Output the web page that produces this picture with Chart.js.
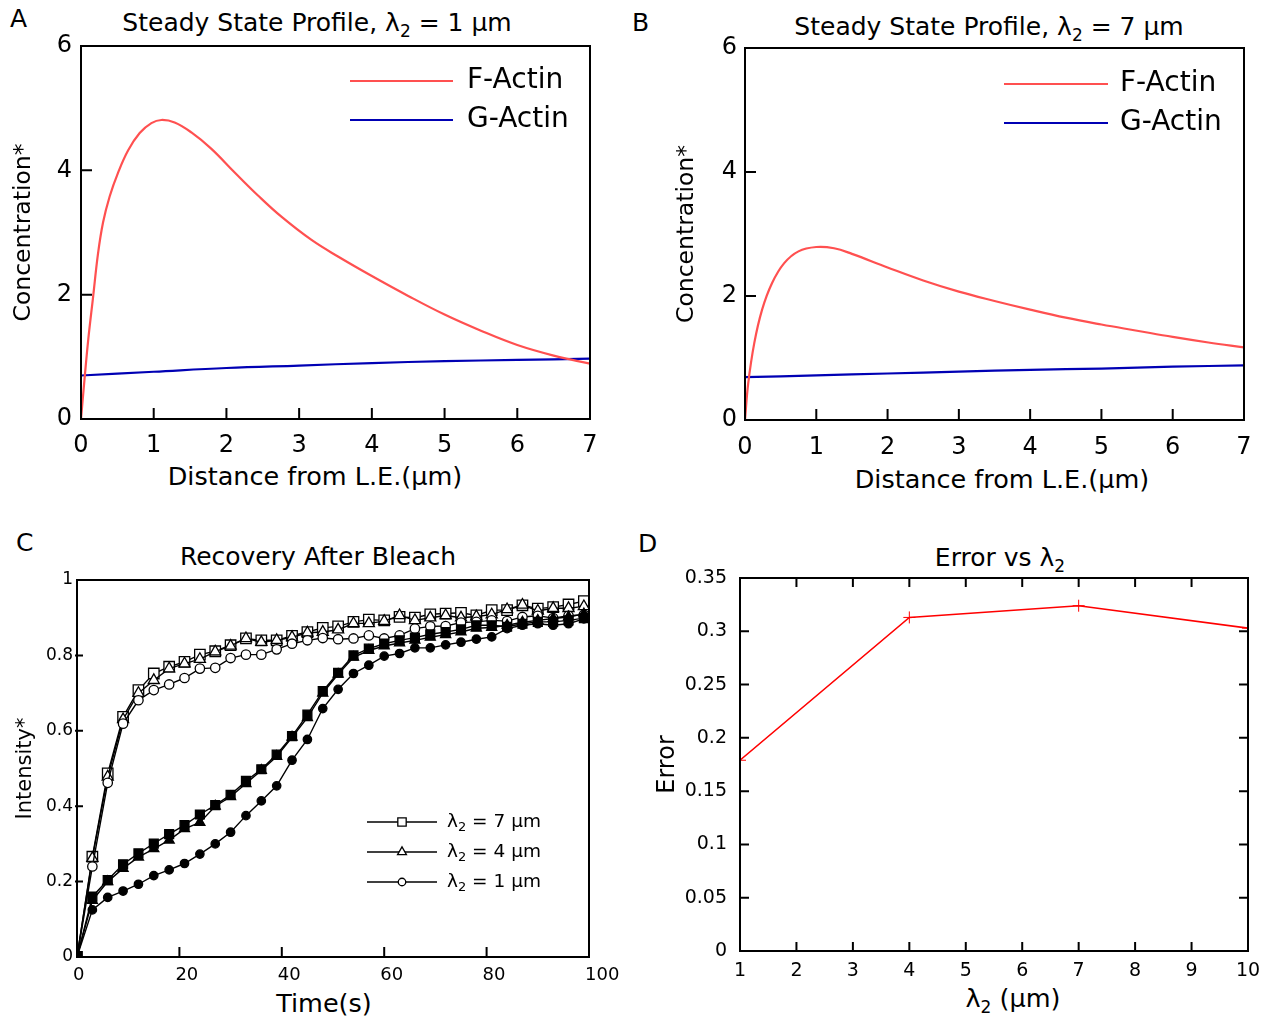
<!DOCTYPE html>
<html>
<head>
<meta charset="utf-8">
<script src="https://cdn.jsdelivr.net/npm/chart.js@4.4.1/dist/chart.umd.min.js"></script>
<style>
  body { margin: 0; background: #fff; width: 1270px; height: 1022px; position: relative; overflow: hidden;
         font-family: "DejaVu Sans", sans-serif; color: #000; }
  canvas { position: absolute; }
  .lbl { position: absolute; font-size: 25px; line-height: 1; }
  .ttl { position: absolute; font-size: 25px; line-height: 1; transform: translate(-50%, -50%); white-space: nowrap; }
  .ttl sub { font-size: 17px; vertical-align: -6px; line-height: 0; }
  .ax { font-size: 25.5px; }
</style>
</head>
<body>
<div class="lbl" style="left:10px;top:6px">A</div>
<div class="lbl" style="left:632px;top:10px">B</div>
<div class="lbl" style="left:16px;top:530px">C</div>
<div class="lbl" style="left:638px;top:531px">D</div>
<div class="ttl" style="left:317px;top:22px">Steady State Profile, λ<sub>2</sub> = 1 µm</div>
<div class="ttl" style="left:989px;top:26px">Steady State Profile, λ<sub>2</sub> = 7 µm</div>
<div class="ttl" style="left:318px;top:556px">Recovery After Bleach</div>
<div class="ttl" style="left:1000px;top:557px">Error vs λ<sub>2</sub></div>
<div class="ttl ax" style="left:315px;top:477px">Distance from L.E.(µm)</div>
<div class="ttl ax" style="left:1002px;top:480px">Distance from L.E.(µm)</div>
<div class="ttl ax" style="left:324px;top:1004px">Time(s)</div>
<div class="ttl ax" style="left:1013px;top:999px">λ<sub>2</sub> (µm)</div>

<canvas id="cA" width="620" height="500" style="left:0;top:0"></canvas>
<canvas id="cB" width="640" height="505" style="left:630px;top:0"></canvas>
<canvas id="cC" width="625" height="497" style="left:0;top:525px"></canvas>
<canvas id="cD" width="640" height="497" style="left:630px;top:525px"></canvas>

<script>
const FONT = '"DejaVu Sans", sans-serif';
const RED = '#ff5050';
const BLUE = '#0000b4';

// A: steady state, lambda2 = 1 um
const distA = [0, 0.05, 0.1, 0.165, 0.234, 0.303, 0.394, 0.509, 0.647, 0.807, 0.968, 1.105, 1.288, 1.518, 1.79, 2.11, 2.43, 2.76, 3.17, 3.54, 4, 4.5, 5, 5.5, 6, 6.5, 7];
const fActinA = [0, 0.66, 1.28, 1.95, 2.66, 3.16, 3.58, 3.96, 4.32, 4.60, 4.76, 4.81, 4.77, 4.61, 4.35, 3.97, 3.60, 3.25, 2.88, 2.61, 2.30, 1.98, 1.68, 1.42, 1.19, 1.02, 0.89];
const gDistA = [0, 1, 2, 3, 4, 5, 6, 7];
const gActinA = [0.70, 0.76, 0.82, 0.86, 0.90, 0.93, 0.95, 0.97];

// B: steady state, lambda2 = 7 um
const distB = [0, 0.045, 0.13, 0.24, 0.38, 0.55, 0.75, 1.0, 1.25, 1.5, 2, 2.5, 3, 3.5, 4, 4.5, 5, 5.5, 6, 6.5, 7];
const fActinB = [0, 0.59, 1.24, 1.78, 2.21, 2.53, 2.72, 2.79, 2.77, 2.68, 2.46, 2.25, 2.07, 1.92, 1.78, 1.65, 1.54, 1.44, 1.34, 1.25, 1.17];
const gDistB = [0, 1, 2, 3, 4, 5, 6, 7];
const gActinB = [0.69, 0.72, 0.75, 0.78, 0.81, 0.83, 0.86, 0.88];

const ticksProfX = [0, 1, 2, 3, 4, 5, 6, 7];
const ticksProfY = [0, 2, 4, 6];

// C: recovery after bleach
const timeC = [0, 3, 6, 9, 12, 15, 18, 21, 24, 27, 30, 33, 36, 39, 42, 45, 48, 51, 54, 57, 60, 63, 66, 69, 72, 75, 78, 81, 84, 87, 90, 93, 96, 99];
const openSq7 = [0, 0.266, 0.487, 0.637, 0.708, 0.752, 0.770, 0.783, 0.802, 0.811, 0.827, 0.845, 0.840, 0.840, 0.852, 0.862, 0.873, 0.877, 0.889, 0.895, 0.893, 0.902, 0.900, 0.909, 0.911, 0.913, 0.906, 0.920, 0.920, 0.933, 0.924, 0.928, 0.935, 0.944];
const openTri4 = [0, 0.262, 0.478, 0.630, 0.700, 0.734, 0.765, 0.778, 0.790, 0.810, 0.825, 0.845, 0.835, 0.840, 0.848, 0.860, 0.862, 0.868, 0.885, 0.885, 0.891, 0.906, 0.893, 0.900, 0.906, 0.900, 0.903, 0.908, 0.922, 0.934, 0.918, 0.925, 0.925, 0.930];
const openCirc1 = [0, 0.240, 0.462, 0.619, 0.681, 0.708, 0.723, 0.740, 0.765, 0.767, 0.793, 0.802, 0.802, 0.816, 0.831, 0.840, 0.846, 0.843, 0.845, 0.853, 0.845, 0.853, 0.871, 0.877, 0.878, 0.887, 0.889, 0.893, 0.891, 0.902, 0.905, 0.899, 0.905, 0.908];
const fillSq7 = [0, 0.160, 0.204, 0.246, 0.275, 0.301, 0.326, 0.350, 0.378, 0.403, 0.430, 0.467, 0.498, 0.537, 0.586, 0.643, 0.705, 0.754, 0.800, 0.818, 0.831, 0.840, 0.847, 0.856, 0.862, 0.869, 0.880, 0.880, 0.876, 0.884, 0.889, 0.889, 0.893, 0.899];
const fillTri4 = [0, 0.150, 0.200, 0.235, 0.265, 0.287, 0.310, 0.340, 0.357, 0.400, 0.425, 0.460, 0.495, 0.532, 0.583, 0.635, 0.700, 0.750, 0.795, 0.813, 0.825, 0.833, 0.840, 0.848, 0.855, 0.862, 0.872, 0.874, 0.880, 0.888, 0.893, 0.898, 0.902, 0.910];
const fillCirc1 = [0, 0.125, 0.158, 0.175, 0.193, 0.216, 0.231, 0.248, 0.273, 0.300, 0.331, 0.375, 0.414, 0.454, 0.522, 0.577, 0.659, 0.710, 0.752, 0.774, 0.798, 0.805, 0.820, 0.820, 0.828, 0.835, 0.843, 0.849, 0.871, 0.880, 0.884, 0.880, 0.884, 0.897];
const ticksCX = [0, 20, 40, 60, 80, 100];
const ticksCY = [0, 0.2, 0.4, 0.6, 0.8, 1];

// D: error vs lambda2
const lambdaD = [1, 4, 7, 10];
const errorD = [0.179, 0.313, 0.324, 0.303];
const ticksDX = [1, 2, 3, 4, 5, 6, 7, 8, 9, 10];
const ticksDY = [0, 0.05, 0.1, 0.15, 0.2, 0.25, 0.3, 0.35];

const pts = (xs, ys) => xs.map((x, i) => ({ x: x, y: ys[i] }));

// box round the plot + inward tick marks
const frameTicks = {
  id: 'frameTicks',
  afterDatasetsDraw(chart, args, o) {
    const { ctx, chartArea: a, scales: { x, y } } = chart;
    ctx.save();
    ctx.strokeStyle = '#000';
    ctx.lineWidth = o.lw;
    ctx.strokeRect(a.left, a.top, a.right - a.left, a.bottom - a.top);
    ctx.beginPath();
    o.xMarks.forEach(v => {
      const px = x.getPixelForValue(v);
      ctx.moveTo(px, a.bottom); ctx.lineTo(px, a.bottom - o.len);
      if (o.mirror) { ctx.moveTo(px, a.top); ctx.lineTo(px, a.top + o.len); }
    });
    o.yMarks.forEach(v => {
      const py = y.getPixelForValue(v);
      ctx.moveTo(a.left - (o.out || 0), py); ctx.lineTo(a.left + (o.ylen || o.len), py);
      if (o.mirror) { ctx.moveTo(a.right, py); ctx.lineTo(a.right - o.len, py); }
    });
    ctx.stroke();
    ctx.restore();
  }
};

// text with "_2" written as a subscript
function subText(ctx, str, x, y, fs) {
  const parts = str.split('_');
  let cx = x;
  parts.forEach((p, i) => {
    if (i > 0) {
      ctx.font = Math.round(fs * 0.68) + 'px ' + FONT;
      ctx.fillText(p[0], cx, y + fs * 0.3);
      cx += ctx.measureText(p[0]).width;
      p = p.slice(1);
    }
    ctx.font = fs + 'px ' + FONT;
    ctx.fillText(p, cx, y);
    cx += ctx.measureText(p).width;
  });
}

// legend drawn inside the plot
const inLegend = {
  id: 'inLegend',
  afterDraw(chart, args, o) {
    if (!o.rows) return;
    const ctx = chart.ctx;
    ctx.save();
    o.rows.forEach(r => {
      const ds = chart.data.datasets[r.ds];
      ctx.strokeStyle = ds.borderColor;
      ctx.lineWidth = o.lw;
      ctx.beginPath(); ctx.moveTo(o.x1, r.y); ctx.lineTo(o.x2, r.y); ctx.stroke();
      if (o.marker) {
        ctx.fillStyle = ds.backgroundColor;
        ctx.lineWidth = ds.pointBorderWidth;
        Chart.helpers.drawPoint(ctx, { pointStyle: ds.pointStyle, radius: ds.pointRadius * 0.8, rotation: 0, borderWidth: ds.pointBorderWidth },
          (o.x1 + o.x2) / 2, r.y);
      }
      ctx.fillStyle = '#000';
      ctx.textBaseline = 'middle';
      ctx.textAlign = 'left';
      subText(ctx, r.text, o.tx, r.y, o.fs);
    });
    ctx.restore();
  }
};

function axis(min, max, ticks, o) {
  return {
    type: 'linear', min: min, max: max,
    grid: { display: false, drawTicks: false },
    border: { display: false },
    afterBuildTicks: s => { s.ticks = ticks.map(v => ({ value: v })); },
    afterFit: s => {
      if (o.w) s.width = o.w;
      if (o.h) s.height = o.h;
      s.paddingLeft = s.paddingRight = s.paddingTop = s.paddingBottom = 0;
    },
    ticks: { color: '#000', font: { family: FONT, size: o.fs }, padding: o.pad, autoSkip: false, maxRotation: 0,
             align: o.align || 'center', labelOffset: o.off || 0,
             callback: v => String(v) },
    title: { display: !!o.title, text: o.title, color: '#000', font: { family: FONT, size: o.ts }, padding: o.tpad }
  };
}

function lineSet(label, xs, ys, color) {
  return { label: label, data: pts(xs, ys), borderColor: color, backgroundColor: color, showLine: true,
           pointRadius: 0, borderWidth: 2.2, tension: 0.4 };
}

function baseOpts(pad, frame, legend, sx, sy) {
  return {
    responsive: false, animation: false, events: [],
    layout: { padding: pad },
    plugins: { legend: { display: false }, tooltip: { enabled: false }, frameTicks: frame, inLegend: legend },
    scales: { x: sx, y: sy }
  };
}

// ---- A ----
new Chart(document.getElementById('cA'), {
  type: 'scatter',
  data: { datasets: [lineSet('F-Actin', distA, fActinA, RED), lineSet('G-Actin', gDistA, gActinA, BLUE)] },
  options: baseOpts({ top: 46, right: 30, left: 0, bottom: 0 },
    { xMarks: [1, 2, 3, 4, 5, 6], yMarks: [2, 4], len: 11, lw: 2 },
    { x1: 350, x2: 453, tx: 467, fs: 28, lw: 2.2, rows: [{ ds: 0, y: 81, text: 'F-Actin' }, { ds: 1, y: 120, text: 'G-Actin' }] },
    axis(0, 7, ticksProfX, { h: 81, fs: 24, pad: 12 }),
    axis(0, 6, ticksProfY, { w: 81, fs: 24, pad: 9, title: 'Concentration*', ts: 23.5, tpad: { top: 10, bottom: 0 } })),
  plugins: [frameTicks, inLegend]
});

// ---- B ----
new Chart(document.getElementById('cB'), {
  type: 'scatter',
  data: { datasets: [lineSet('F-Actin', distB, fActinB, RED), lineSet('G-Actin', gDistB, gActinB, BLUE)] },
  options: baseOpts({ top: 48, right: 26, left: 0, bottom: 0 },
    { xMarks: [1, 2, 3, 4, 5, 6], yMarks: [2, 4], len: 11, lw: 2 },
    { x1: 374, x2: 478, tx: 490, fs: 28, lw: 2.2, rows: [{ ds: 0, y: 84, text: 'F-Actin' }, { ds: 1, y: 123, text: 'G-Actin' }] },
    axis(0, 7, ticksProfX, { h: 85, fs: 24, pad: 13 }),
    axis(0, 6, ticksProfY, { w: 115, fs: 24, pad: 8, title: 'Concentration*', ts: 23.5, tpad: { top: 43, bottom: 0 } })),
  plugins: [frameTicks, inLegend]
});

// ---- C ----
function markSet(label, ys, style, filled, r) {
  return { label: label, data: pts(timeC, ys), borderColor: '#000', backgroundColor: filled ? '#000' : '#fff',
           showLine: true, borderWidth: 1.4, pointStyle: style, pointRadius: r, pointBorderWidth: 1.3,
           pointBorderColor: '#000', pointBackgroundColor: filled ? '#000' : '#fff' };
}
new Chart(document.getElementById('cC'), {
  type: 'scatter',
  data: { datasets: [
    markSet('slow 1', fillCirc1, 'circle', true, 4.2),
    markSet('slow 4', fillTri4, 'triangle', true, 5.8),
    markSet('slow 7', fillSq7, 'rect', true, 6.3),
    markSet('λ2 = 1 µm', openCirc1, 'circle', false, 4.7),
    markSet('λ2 = 4 µm', openTri4, 'triangle', false, 6.4),
    markSet('λ2 = 7 µm', openSq7, 'rect', false, 7.4)
  ] },
  options: baseOpts({ top: 55, right: 36, left: 0, bottom: 0 },
    { xMarks: [20, 40, 60, 80], yMarks: [0.2, 0.4, 0.6, 0.8], len: 10, ylen: 6, out: 2, lw: 2 },
    { x1: 367, x2: 437, tx: 447, fs: 18.5, lw: 1.5, marker: true,
      rows: [{ ds: 5, y: 297, text: 'λ_2 = 7 µm' }, { ds: 4, y: 327, text: 'λ_2 = 4 µm' }, { ds: 3, y: 357, text: 'λ_2 = 1 µm' }] },
    axis(0, 100, ticksCX, { h: 65, fs: 18, pad: 8, align: 'start', off: -4 }),
    axis(0, 1, ticksCY, { w: 77, fs: 17, pad: 4, title: 'Intensity*', ts: 21, tpad: { top: 13, bottom: 0 } })),
  plugins: [frameTicks, inLegend]
});

// ---- D ----
new Chart(document.getElementById('cD'), {
  type: 'scatter',
  data: { datasets: [{ label: 'Error', data: pts(lambdaD, errorD), borderColor: '#ff0000', backgroundColor: '#ff0000',
    showLine: true, borderWidth: 1.6, pointStyle: 'cross', pointRadius: 6, pointBorderWidth: 1 }] },
  options: baseOpts({ top: 53, right: 22, left: 0, bottom: 0 },
    { xMarks: [2, 3, 4, 5, 6, 7, 8, 9], yMarks: [0.05, 0.1, 0.15, 0.2, 0.25, 0.3], len: 9, mirror: true, lw: 2 },
    {},
    axis(1, 10, ticksDX, { h: 71, fs: 19, pad: 9 }),
    axis(0, 0.35, ticksDY, { w: 110, fs: 19, pad: 13, title: 'Error', ts: 24, tpad: { top: 23, bottom: 0 } })),
  plugins: [frameTicks, inLegend]
});
</script>
</body>
</html>
